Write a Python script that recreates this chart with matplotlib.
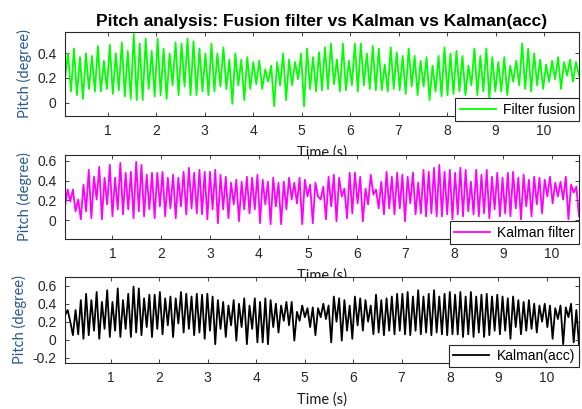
import numpy as np
import matplotlib
matplotlib.use("Agg")
import matplotlib.pyplot as plt

# Pitch estimates (degree), sampled at the peaks/troughs of the oscillation
fusion = [
    0.20, 0.40, 0.09, 0.44, 0.06, 0.37, 0.03, 0.40, 0.11, 0.38,
    0.09, 0.46, 0.09, 0.34, 0.11, 0.47, 0.07, 0.40, 0.10, 0.49,
    0.05, 0.42, 0.03, 0.56, 0.02, 0.48, 0.02, 0.52, 0.11, 0.42,
    0.05, 0.52, 0.06, 0.44, 0.03, 0.40, 0.14, 0.49, 0.06, 0.48,
    0.13, 0.52, 0.06, 0.50, 0.06, 0.44, 0.09, 0.40, 0.06, 0.48,
    0.09, 0.40, 0.13, 0.45, 0.11, 0.35, -0.01, 0.40, 0.14, 0.35,
    0.02, 0.37, 0.11, 0.33, 0.15, 0.34, 0.11, 0.27, 0.17, 0.30,
    -0.03, 0.33, 0.14, 0.40, 0.02, 0.35, 0.14, 0.33, 0.19, 0.40,
    -0.03,
    0.44, 0.11, 0.37, 0.09, 0.41, 0.10, 0.45, 0.11, 0.48, 0.15,
    0.35, 0.09, 0.48, 0.10, 0.34, 0.14, 0.48, 0.09, 0.48, 0.14,
    0.40, 0.11, 0.46, 0.10, 0.44, 0.10, 0.31, 0.09, 0.45, 0.11,
    0.41, 0.10, 0.38, 0.07, 0.44, 0.13, 0.38, 0.06, 0.34, 0.13,
    0.37, 0.02, 0.30, 0.09, 0.38, 0.05, 0.45, 0.06, 0.40, 0.07,
    0.42, 0.09, 0.38, 0.06, 0.30, 0.14, 0.44, 0.06, 0.38, 0.09,
    0.44, 0.03, 0.37, 0.09, 0.33, 0.09, 0.37, 0.06, 0.30, 0.17,
    0.34, 0.14, 0.48, 0.11, 0.44, 0.09, 0.40, 0.14, 0.35, 0.11,
    0.31, 0.17, 0.34, 0.19, 0.37, 0.11, 0.33, 0.22, 0.35, 0.17,
    0.33, 0.22,
]

kalman = [
    0.14, 0.31, 0.19, 0.31, 0.09, 0.21, 0.01, 0.36, 0.09, 0.51,
    0.02, 0.44, 0.21, 0.54, 0.01, 0.43, 0.16, 0.56, 0.04, 0.43,
    0.11, 0.58, 0.06, 0.48, 0.11, 0.49, 0.02, 0.59, 0.09, 0.56,
    0.04, 0.46, 0.11, 0.48, 0.02, 0.48, 0.14, 0.49, 0.04, 0.43,
    0.12, 0.46, 0.02, 0.43, 0.14, 0.49, 0.06, 0.53, 0.12, 0.48,
    0.07, 0.51, 0.06, 0.49, 0.01, 0.49, 0.11, 0.51, -0.03, 0.46,
    0.11, 0.44, 0.02, 0.38, 0.16, 0.41, -0.01, 0.39, 0.11, 0.44,
    0.07, 0.43, 0.11, 0.46, -0.03, 0.41, 0.16, 0.39, -0.04, 0.43,
    0.14, 0.38, -0.04, 0.39, 0.11, 0.43, 0.21, 0.38, 0.17, 0.43,
    -0.04, 0.41, 0.24, 0.36, -0.03, 0.38, 0.24,
    0.21, 0.34, 0.01, 0.44, 0.14, 0.46, -0.01, 0.43, 0.24, 0.32,
    0.02, 0.48, 0.07, 0.48, 0.17, 0.44, -0.01, 0.32, 0.16, 0.46,
    0.26, 0.31, 0.12, 0.39, 0.06, 0.49, 0.12, 0.44, 0.06, 0.48,
    0.12, 0.46, -0.01, 0.44, 0.17, 0.48, 0.06, 0.38, 0.07, 0.51,
    0.04, 0.49, 0.07, 0.53, 0.04, 0.56, 0.04, 0.49, 0.06, 0.51,
    0.01, 0.48, 0.06, 0.53, 0.04, 0.51, 0.09, 0.39, 0.06, 0.51,
    0.04, 0.46, 0.07, 0.51, 0.02, 0.44, 0.11, 0.48, 0.04, 0.43,
    0.07, 0.48, 0.04, 0.49, 0.12, 0.43, 0.01, 0.46, 0.14, 0.41,
    0.04, 0.44, 0.16, 0.43, 0.07, 0.41, 0.24, 0.44, 0.17, 0.38,
    0.24, 0.39, 0.21, 0.44, 0.01, 0.36, 0.28, 0.34, 0.04,
]

kalman_acc = [
    0.27, 0.33, 0.20, 0.05, 0.33, 0.06, 0.44, 0.01, 0.51, 0.05,
    0.44, 0.10, 0.53, 0.01, 0.42, 0.12, 0.55, 0.03, 0.42, 0.10,
    0.57, 0.03, 0.44, 0.12, 0.51, 0.03, 0.59, 0.08, 0.57, 0.05,
    0.46, 0.14, 0.50, 0.03, 0.50, 0.12, 0.53, 0.06, 0.46, 0.16,
    0.48, 0.03, 0.46, 0.18, 0.53, 0.08, 0.51, 0.12, 0.48, 0.05,
    0.51, 0.08, 0.50, 0.01, 0.51, 0.10, 0.48, -0.05, 0.44, 0.12,
    0.42, 0.03, 0.38, 0.16, 0.44, -0.01, 0.40, 0.14, 0.46, -0.05,
    0.38, 0.12, 0.46, -0.03, 0.42, -0.03, 0.46, -0.05, 0.44, 0.14,
    0.40, 0.08, 0.38, 0.21, 0.42, 0.16, 0.42, -0.01, 0.31, 0.21,
    0.38, 0.25, 0.35, 0.14, 0.36, 0.05, 0.35, 0.25, 0.40,
    0.23, 0.38, -0.03, 0.48, 0.20, 0.46, -0.01, 0.44, 0.10, 0.38,
    0.01, 0.48, 0.16, 0.46, 0.10, 0.44, 0.20, 0.38, 0.06, 0.50,
    0.08, 0.44, 0.05, 0.46, 0.10, 0.48, 0.06, 0.51, 0.10, 0.51,
    0.06, 0.53, 0.05, 0.48, 0.10, 0.55, 0.06, 0.48, 0.08, 0.51,
    0.05, 0.55, 0.08, 0.48, 0.06, 0.51, 0.05, 0.53, 0.06, 0.50,
    0.06, 0.53, 0.03, 0.48, 0.06, 0.53, 0.03, 0.48, 0.08, 0.50,
    0.03, 0.51, 0.05, 0.48, 0.10, 0.50, 0.06, 0.48, 0.10, 0.46,
    0.01, 0.48, 0.14, 0.44, 0.06, 0.42, 0.10, 0.44, 0.12, 0.40,
    0.08, 0.38, 0.20, 0.40, 0.14, 0.38, 0.01, 0.35, 0.23, 0.38,
    -0.05, 0.36, 0.25, 0.40, -0.03, 0.33, -0.05,
]

# first/last sample time of each record (s)
t_range = {"fusion": (0.12, 10.72), "kalman": (0.03, 10.55), "kalman_acc": (0.06, 10.66)}
y_limits = {"fusion": (-0.11, 0.575), "kalman": (-0.19, 0.66), "kalman_acc": (-0.256, 0.697)}
y_ticks = {"fusion": [0, 0.2, 0.4], "kalman": [0, 0.2, 0.4, 0.6],
           "kalman_acc": [-0.2, 0, 0.2, 0.4, 0.6]}
x_ticks = list(range(1, 11))

TICK_COLOR = "#262626"
LABEL_COLOR = "#2a5a8c"


def style_axes(ax, key, legend_label, color, values):
    t0, t1 = t_range[key]
    t = np.linspace(t0, t1, len(values))
    ax.plot(t, values, color=color, linewidth=1.3, label=legend_label)
    ax.set_xlim(t0, t1)
    ax.set_ylim(*y_limits[key])
    ax.set_xticks(x_ticks)
    ax.set_xticklabels([str(v) for v in x_ticks])
    ax.set_yticks(y_ticks[key])
    ax.set_yticklabels(["0" if v == 0 else f"{v:g}" for v in y_ticks[key]])
    ax.tick_params(direction="in", top=True, right=True, length=3, width=0.6,
                   labelsize=10, colors=TICK_COLOR, pad=6)
    for lbl in ax.get_xticklabels() + ax.get_yticklabels():
        lbl.set_fontfamily("Liberation Sans")
    for sp in ax.spines.values():
        sp.set_color(TICK_COLOR)
        sp.set_linewidth(0.8)
    ax.set_xlabel("Time (s)", fontfamily="Lato", fontsize=10.5, color="#1a1a1a", labelpad=5)
    ax.set_ylabel("Pitch (degree)", fontfamily="Lato", fontsize=10.5, color=LABEL_COLOR, labelpad=4)
    leg = ax.legend(loc="upper right", bbox_to_anchor=(1.0, 0.21), borderaxespad=0,
                    fancybox=False, framealpha=1, edgecolor="#262626",
                    prop={"family": "Liberation Sans", "size": 10},
                    handlelength=2.6, handletextpad=0.5, borderpad=0.3)
    leg.get_frame().set_linewidth(0.8)
    leg.set_zorder(5)


def main():
    fig = plt.figure(figsize=(5.82, 4.09), dpi=100)
    fig.patch.set_facecolor("white")

    ax1 = fig.add_axes([0.1117, 0.7164, 0.8831, 0.2054])
    ax2 = fig.add_axes([0.1117, 0.4156, 0.8831, 0.2054])
    ax3 = fig.add_axes([0.1117, 0.1132, 0.8831, 0.2095])

    style_axes(ax1, "fusion", "Filter fusion", "#00ff00", fusion)
    style_axes(ax2, "kalman", "Kalman filter", "#ff00ff", kalman)
    style_axes(ax3, "kalman_acc", "Kalman(acc)", "#000000", kalman_acc)

    ax1.set_title("Pitch analysis: Fusion filter vs Kalman vs Kalman(acc)",
                  fontfamily="Liberation Sans", fontweight="bold", fontsize=12.5,
                  color="#000000", pad=4)

    fig.savefig("out.png", dpi=100)


if __name__ == "__main__":
    main()
